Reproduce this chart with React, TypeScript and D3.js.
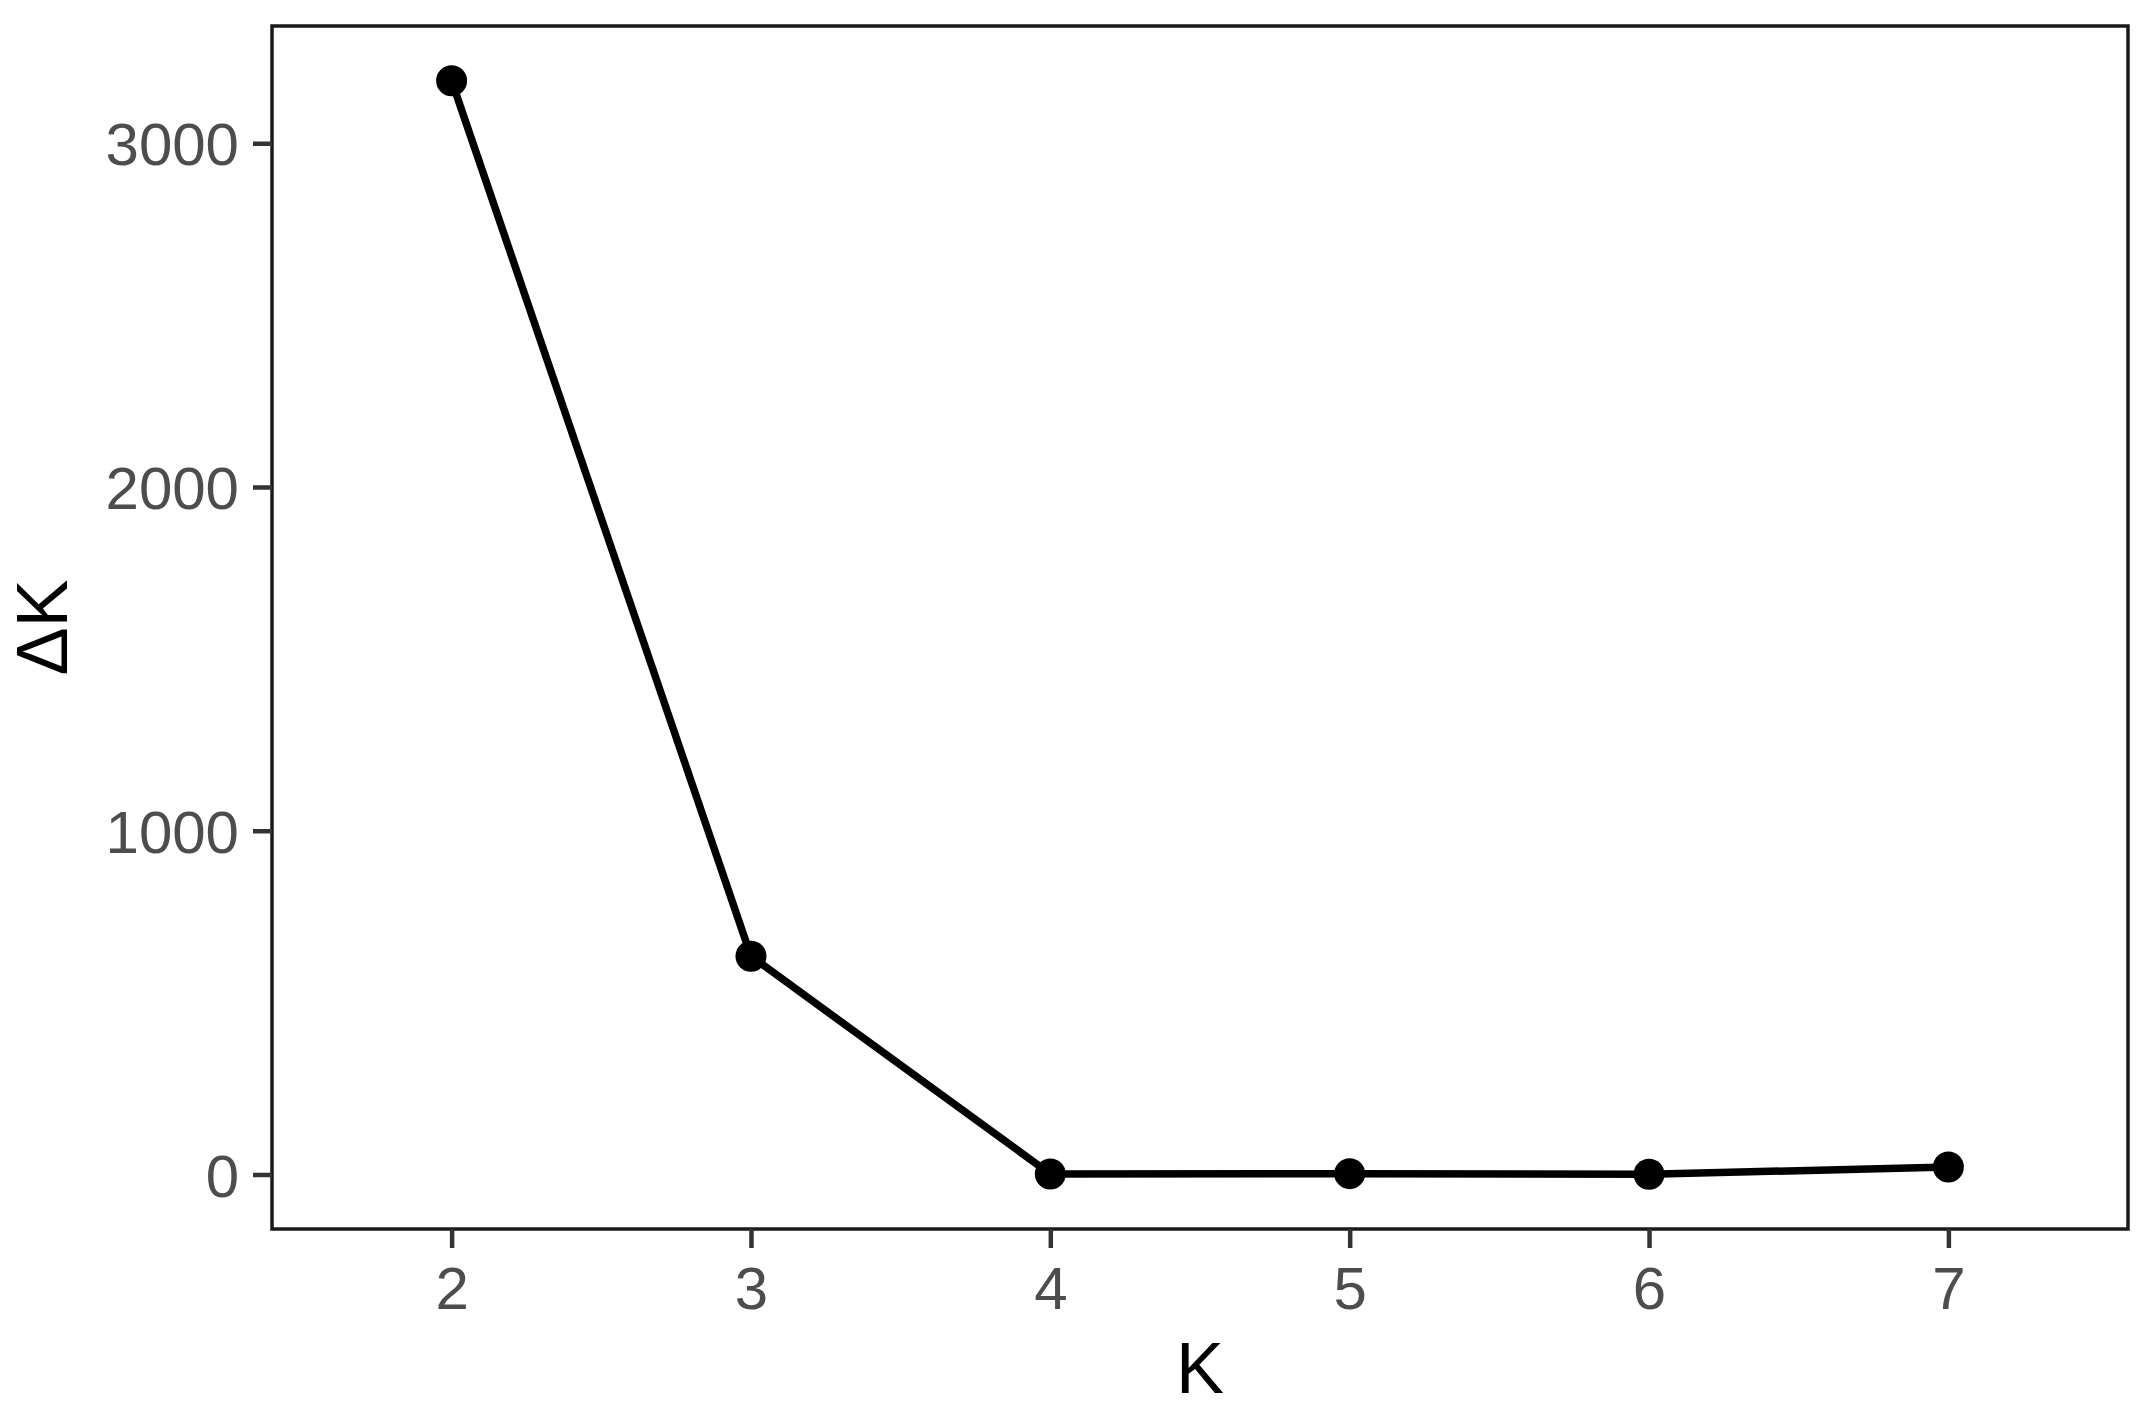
import React, { useEffect, useRef } from "react";
import * as d3 from "d3";

// Evanno delta K by number of clusters
const kValues = [2, 3, 4, 5, 6, 7];
const deltaK = [3182, 635, 1.5, 2.5, 0.5, 22];
const yTickValues = [0, 1000, 2000, 3000];
const xTickValues = [2, 3, 4, 5, 6, 7];

const W = 2152;
const H = 1413;
const FONT = "'Liberation Sans', Arial, Helvetica, sans-serif";

export default function App() {
  const svgRef = useRef<SVGSVGElement | null>(null);

  useEffect(() => {
    const svg = d3.select(svgRef.current);
    svg.selectAll("*").remove();

    const left = 272, right = 2128, top = 26, bottom = 1229;

    // ggplot-ish expansion: 0.6 on the discrete-looking x, 5% on y
    const x = d3.scaleLinear()
      .domain([d3.min(kValues)! - 0.6, d3.max(kValues)! + 0.6])
      .range([left, right]);

    const yMin = d3.min(deltaK)!;
    const yMax = d3.max(deltaK)!;
    const pad = (yMax - yMin) * 0.05;
    const y = d3.scaleLinear()
      .domain([yMin - pad, yMax + pad])
      .range([bottom, top]);

    // panel background + border
    svg.append("rect")
      .attr("x", left).attr("y", top)
      .attr("width", right - left).attr("height", bottom - top)
      .attr("fill", "#ffffff")
      .attr("stroke", "#1a1a1a")
      .attr("stroke-width", 3.5);

    // x axis
    const xAxis = d3.axisBottom(x)
      .tickValues(xTickValues)
      .tickSize(19)
      .tickPadding(10)
      .tickFormat(d3.format("d"));
    const gX = svg.append("g").attr("transform", `translate(0, ${bottom})`).call(xAxis);
    gX.select(".domain").remove();
    gX.selectAll(".tick line").attr("stroke", "#333333").attr("stroke-width", 4.5);
    gX.selectAll(".tick text")
      .attr("fill", "#4d4d4d")
      .attr("font-size", 60)
      .attr("font-family", FONT)
      .attr("dy", null)
      .attr("y", 80);

    // y axis
    const yAxis = d3.axisLeft(y)
      .tickValues(yTickValues)
      .tickSize(19)
      .tickPadding(14)
      .tickFormat(d3.format("d"));
    const gY = svg.append("g").attr("transform", `translate(${left}, 0)`).call(yAxis);
    gY.select(".domain").remove();
    gY.selectAll(".tick line").attr("stroke", "#333333").attr("stroke-width", 4.5);
    gY.selectAll(".tick text")
      .attr("fill", "#4d4d4d")
      .attr("font-size", 60)
      .attr("font-family", FONT)
      .attr("dy", "0.36em");

    // line + points
    const pts = kValues.map((k, i) => [k, deltaK[i]] as [number, number]);
    const line = d3.line<[number, number]>()
      .x(d => x(d[0]))
      .y(d => y(d[1]));

    svg.append("path")
      .datum(pts)
      .attr("d", line)
      .attr("fill", "none")
      .attr("stroke", "#000000")
      .attr("stroke-width", 7.5)
      .attr("stroke-linejoin", "round");

    svg.append("g")
      .selectAll("circle")
      .data(pts)
      .join("circle")
      .attr("cx", d => x(d[0]))
      .attr("cy", d => y(d[1]))
      .attr("r", 15.5)
      .attr("fill", "#000000");

    // axis titles
    svg.append("text")
      .attr("x", (left + right) / 2)
      .attr("y", 1393)
      .attr("text-anchor", "middle")
      .attr("font-size", 72)
      .attr("font-family", FONT)
      .attr("fill", "#000000")
      .text("K");

    svg.append("text")
      .attr("transform", `translate(67, ${(top + bottom) / 2}) rotate(-90)`)
      .attr("text-anchor", "middle")
      .attr("font-size", 72)
      .attr("font-family", FONT)
      .attr("fill", "#000000")
      .text("ΔK");
  }, []);

  return (
    <svg
      ref={svgRef}
      width={W}
      height={H}
      style={{ position: "absolute", left: 0, top: 0, background: "#ffffff" }}
    />
  );
}
